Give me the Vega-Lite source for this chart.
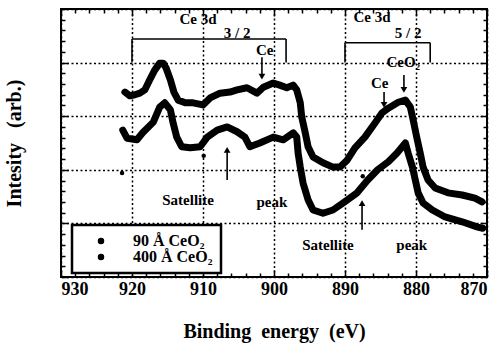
{
  "$schema": "https://vega.github.io/schema/vega-lite/v6.json",
  "width": 426,
  "height": 268,
  "autosize": {"type": "none"},
  "padding": {"left": 61, "top": 9, "right": 13, "bottom": 67},
  "background": "white",
  "config": {
    "view": {"stroke": "black", "strokeWidth": 2},
    "axis": {
      "labelFont": "Liberation Serif", "labelFontWeight": "bold", "labelFontSize": 18, "labelColor": "black",
      "titleFont": "Liberation Serif", "titleFontWeight": "bold", "titleFontSize": 20, "titleColor": "black",
      "tickColor": "black", "tickWidth": 1.5, "domain": false,
      "gridColor": "black", "gridDash": [2, 2.5], "gridWidth": 1.5
    },
    "text": {"font": "Liberation Serif", "fontWeight": "bold", "color": "black"}
  },
  "datasets": {
    "curves": [
      {"series": "90 Å CeO₂", "e": 921.0, "i": 3.45}, {"series": "90 Å CeO₂", "e": 920.3, "i": 3.38},
      {"series": "90 Å CeO₂", "e": 919.6, "i": 3.40}, {"series": "90 Å CeO₂", "e": 918.9, "i": 3.43},
      {"series": "90 Å CeO₂", "e": 918.2, "i": 3.49}, {"series": "90 Å CeO₂", "e": 917.5, "i": 3.68},
      {"series": "90 Å CeO₂", "e": 916.8, "i": 3.86}, {"series": "90 Å CeO₂", "e": 916.1, "i": 3.99},
      {"series": "90 Å CeO₂", "e": 915.6, "i": 3.99}, {"series": "90 Å CeO₂", "e": 915.2, "i": 3.90},
      {"series": "90 Å CeO₂", "e": 914.6, "i": 3.68}, {"series": "90 Å CeO₂", "e": 914.1, "i": 3.45},
      {"series": "90 Å CeO₂", "e": 913.5, "i": 3.30}, {"series": "90 Å CeO₂", "e": 912.5, "i": 3.25},
      {"series": "90 Å CeO₂", "e": 911.4, "i": 3.25}, {"series": "90 Å CeO₂", "e": 910.0, "i": 3.21},
      {"series": "90 Å CeO₂", "e": 909.0, "i": 3.34}, {"series": "90 Å CeO₂", "e": 907.6, "i": 3.43},
      {"series": "90 Å CeO₂", "e": 906.2, "i": 3.45}, {"series": "90 Å CeO₂", "e": 905.2, "i": 3.49},
      {"series": "90 Å CeO₂", "e": 903.8, "i": 3.53}, {"series": "90 Å CeO₂", "e": 902.4, "i": 3.43},
      {"series": "90 Å CeO₂", "e": 901.5, "i": 3.54}, {"series": "90 Å CeO₂", "e": 900.1, "i": 3.62},
      {"series": "90 Å CeO₂", "e": 899.2, "i": 3.58}, {"series": "90 Å CeO₂", "e": 898.2, "i": 3.53},
      {"series": "90 Å CeO₂", "e": 897.3, "i": 3.58}, {"series": "90 Å CeO₂", "e": 896.8, "i": 3.49},
      {"series": "90 Å CeO₂", "e": 896.3, "i": 3.25}, {"series": "90 Å CeO₂", "e": 896.1, "i": 2.99},
      {"series": "90 Å CeO₂", "e": 895.6, "i": 2.69}, {"series": "90 Å CeO₂", "e": 895.2, "i": 2.43},
      {"series": "90 Å CeO₂", "e": 894.5, "i": 2.24}, {"series": "90 Å CeO₂", "e": 893.1, "i": 2.13},
      {"series": "90 Å CeO₂", "e": 891.7, "i": 2.05}, {"series": "90 Å CeO₂", "e": 890.7, "i": 2.05},
      {"series": "90 Å CeO₂", "e": 889.7, "i": 2.18}, {"series": "90 Å CeO₂", "e": 888.6, "i": 2.41},
      {"series": "90 Å CeO₂", "e": 887.2, "i": 2.61}, {"series": "90 Å CeO₂", "e": 885.8, "i": 2.87},
      {"series": "90 Å CeO₂", "e": 884.8, "i": 3.06}, {"series": "90 Å CeO₂", "e": 883.9, "i": 3.15},
      {"series": "90 Å CeO₂", "e": 882.5, "i": 3.26}, {"series": "90 Å CeO₂", "e": 881.5, "i": 3.30},
      {"series": "90 Å CeO₂", "e": 880.8, "i": 3.17}, {"series": "90 Å CeO₂", "e": 880.4, "i": 2.93},
      {"series": "90 Å CeO₂", "e": 879.9, "i": 2.61}, {"series": "90 Å CeO₂", "e": 879.4, "i": 2.31},
      {"series": "90 Å CeO₂", "e": 879.0, "i": 2.05}, {"series": "90 Å CeO₂", "e": 878.3, "i": 1.81},
      {"series": "90 Å CeO₂", "e": 877.3, "i": 1.66}, {"series": "90 Å CeO₂", "e": 875.5, "i": 1.57},
      {"series": "90 Å CeO₂", "e": 873.5, "i": 1.53}, {"series": "90 Å CeO₂", "e": 871.7, "i": 1.47},
      {"series": "90 Å CeO₂", "e": 870.7, "i": 1.40},
      {"series": "400 Å CeO₂", "e": 921.3, "i": 2.74}, {"series": "400 Å CeO₂", "e": 920.7, "i": 2.59},
      {"series": "400 Å CeO₂", "e": 919.3, "i": 2.56}, {"series": "400 Å CeO₂", "e": 918.5, "i": 2.69},
      {"series": "400 Å CeO₂", "e": 917.0, "i": 2.89}, {"series": "400 Å CeO₂", "e": 916.1, "i": 3.17},
      {"series": "400 Å CeO₂", "e": 915.4, "i": 3.25}, {"series": "400 Å CeO₂", "e": 914.6, "i": 3.12},
      {"series": "400 Å CeO₂", "e": 914.2, "i": 2.87}, {"series": "400 Å CeO₂", "e": 913.7, "i": 2.61},
      {"series": "400 Å CeO₂", "e": 913.0, "i": 2.43}, {"series": "400 Å CeO₂", "e": 911.8, "i": 2.41},
      {"series": "400 Å CeO₂", "e": 910.4, "i": 2.43}, {"series": "400 Å CeO₂", "e": 909.4, "i": 2.61},
      {"series": "400 Å CeO₂", "e": 908.0, "i": 2.74}, {"series": "400 Å CeO₂", "e": 906.6, "i": 2.80},
      {"series": "400 Å CeO₂", "e": 905.2, "i": 2.71}, {"series": "400 Å CeO₂", "e": 904.1, "i": 2.61},
      {"series": "400 Å CeO₂", "e": 903.4, "i": 2.43}, {"series": "400 Å CeO₂", "e": 902.0, "i": 2.50},
      {"series": "400 Å CeO₂", "e": 900.1, "i": 2.61}, {"series": "400 Å CeO₂", "e": 898.7, "i": 2.56},
      {"series": "400 Å CeO₂", "e": 897.3, "i": 2.69}, {"series": "400 Å CeO₂", "e": 896.8, "i": 2.61},
      {"series": "400 Å CeO₂", "e": 896.6, "i": 2.31}, {"series": "400 Å CeO₂", "e": 896.3, "i": 2.05},
      {"series": "400 Å CeO₂", "e": 895.9, "i": 1.75}, {"series": "400 Å CeO₂", "e": 895.2, "i": 1.44},
      {"series": "400 Å CeO₂", "e": 894.5, "i": 1.25}, {"series": "400 Å CeO₂", "e": 893.1, "i": 1.19},
      {"series": "400 Å CeO₂", "e": 891.7, "i": 1.25}, {"series": "400 Å CeO₂", "e": 890.3, "i": 1.38},
      {"series": "400 Å CeO₂", "e": 888.3, "i": 1.57}, {"series": "400 Å CeO₂", "e": 886.8, "i": 1.81},
      {"series": "400 Å CeO₂", "e": 885.4, "i": 2.00}, {"series": "400 Å CeO₂", "e": 883.9, "i": 2.15},
      {"series": "400 Å CeO₂", "e": 882.7, "i": 2.31}, {"series": "400 Å CeO₂", "e": 881.5, "i": 2.50},
      {"series": "400 Å CeO₂", "e": 881.1, "i": 2.31}, {"series": "400 Å CeO₂", "e": 880.5, "i": 2.05},
      {"series": "400 Å CeO₂", "e": 880.1, "i": 1.81}, {"series": "400 Å CeO₂", "e": 879.7, "i": 1.57},
      {"series": "400 Å CeO₂", "e": 879.0, "i": 1.38}, {"series": "400 Å CeO₂", "e": 877.7, "i": 1.25},
      {"series": "400 Å CeO₂", "e": 875.9, "i": 1.12}, {"series": "400 Å CeO₂", "e": 873.5, "i": 1.03},
      {"series": "400 Å CeO₂", "e": 871.3, "i": 0.93}, {"series": "400 Å CeO₂", "e": 870.6, "i": 0.91}
    ],
    "stray": [
      {"e": 921.4, "i": 1.94}, {"e": 909.9, "i": 2.26}, {"e": 887.5, "i": 1.88}
    ],
    "segs": [
      {"x": 920, "x2": 898.3, "y": 4.44, "y2": 4.44},
      {"x": 920, "x2": 920, "y": 4.0, "y2": 4.44},
      {"x": 898.3, "x2": 898.3, "y": 4.0, "y2": 4.44},
      {"x": 890, "x2": 878.0, "y": 4.37, "y2": 4.37},
      {"x": 890, "x2": 890, "y": 4.0, "y2": 4.37},
      {"x": 878.0, "x2": 878.0, "y": 4.0, "y2": 4.37},
      {"x": 901.7, "x2": 901.7, "y": 4.10, "y2": 3.76},
      {"x": 884.5, "x2": 884.5, "y": 3.45, "y2": 3.23},
      {"x": 881.7, "x2": 881.7, "y": 3.77, "y2": 3.51},
      {"x": 906.6, "x2": 906.6, "y": 1.81, "y2": 2.36},
      {"x": 887.6, "x2": 887.6, "y": 0.88, "y2": 1.37}
    ],
    "heads": [
      {"x": 901.7, "y": 3.74, "dir": "down"},
      {"x": 884.5, "y": 3.21, "dir": "down"},
      {"x": 881.7, "y": 3.49, "dir": "down"},
      {"x": 906.6, "y": 2.37, "dir": "up"},
      {"x": 887.6, "y": 1.38, "dir": "up"}
    ],
    "labels": [
      {"x": 910.7, "y": 4.81, "text": "Ce 3d", "kind": "label"},
      {"x": 905.2, "y": 4.55, "text": "3 / 2", "kind": "sub"},
      {"x": 886.2, "y": 4.85, "text": "Ce 3d", "kind": "label"},
      {"x": 881.1, "y": 4.55, "text": "5 / 2", "kind": "sub"},
      {"x": 901.3, "y": 4.24, "text": "Ce", "kind": "label"},
      {"x": 885.1, "y": 3.62, "text": "Ce", "kind": "label"},
      {"x": 881.8, "y": 4.01, "text": "CeO₂", "kind": "label"},
      {"x": 912.1, "y": 1.44, "text": "Satellite", "kind": "note"},
      {"x": 900.3, "y": 1.40, "text": "peak", "kind": "note"},
      {"x": 892.4, "y": 0.60, "text": "Satellite", "kind": "note"},
      {"x": 880.6, "y": 0.60, "text": "peak", "kind": "note"}
    ]
  },
  "layer": [
    {
      "data": {"name": "curves"},
      "mark": {"type": "line", "strokeWidth": 7, "strokeJoin": "round", "strokeCap": "round"},
      "encoding": {
        "x": {
          "field": "e", "type": "quantitative",
          "scale": {"domain": [870, 930], "reverse": true, "nice": false, "zero": false},
          "axis": {
            "orient": "bottom", "title": "Binding\u00a0 energy\u00a0 (eV)",
            "values": [930,928,926,924,922,920,918,916,914,912,910,908,906,904,902,900,898,896,894,892,890,888,886,884,882,880,878,876,874,872,870],
            "labelExpr": "datum.value % 10 == 0 ? format(datum.value, 'd') : ''",
            "tickSize": {"condition": {"test": "datum.value % 10 == 0", "value": -7}, "value": -4},
            "labelPadding": 10, "titlePadding": 23,
            "grid": true,
            "gridOpacity": {"condition": {"test": "datum.value % 10 == 0", "value": 1}, "value": 0}
          }
        },
        "y": {
          "field": "i", "type": "quantitative",
          "scale": {"domain": [0, 5], "nice": false},
          "axis": {
            "orient": "left", "title": "Intesity\u00a0\u00a0 (arb.)", "labels": false,
            "values": [0,0.2,0.4,0.6,0.8,1,1.2,1.4,1.6,1.8,2,2.2,2.4,2.6,2.8,3,3.2,3.4,3.6,3.8,4,4.2,4.4,4.6,4.8,5],
            "tickSize": {"condition": {"test": "datum.value % 1 == 0", "value": -7}, "value": -4},
            "titlePadding": 36,
            "grid": true,
            "gridOpacity": {"condition": {"test": "datum.value % 1 == 0", "value": 1}, "value": 0}
          }
        },
        "color": {
          "field": "series", "type": "nominal",
          "scale": {"domain": ["90 Å CeO₂", "400 Å CeO₂"], "range": ["black", "black"]},
          "legend": {
            "title": null, "orient": "none", "legendX": 11, "legendY": 216,
            "symbolType": "circle", "symbolFillColor": "black", "symbolStrokeColor": "black", "symbolSize": 25,
            "symbolOffset": 13, "labelOffset": 24,
            "labelFont": "Liberation Serif", "labelFontWeight": "bold", "labelFontSize": 16, "labelColor": "black",
            "fillColor": "white", "strokeColor": "black", "padding": 8, "rowPadding": 0,
            "encode": {"legend": {"update": {"strokeWidth": {"value": 2.5}}}}
          }
        }
      }
    },
    {
      "data": {"name": "stray"},
      "mark": {"type": "point", "filled": true, "color": "black", "size": 20, "opacity": 1},
      "encoding": {
        "x": {"field": "e", "type": "quantitative", "axis": null},
        "y": {"field": "i", "type": "quantitative", "axis": null}
      }
    },
    {
      "data": {"name": "segs"},
      "mark": {"type": "rule", "color": "black", "strokeWidth": 1.6},
      "encoding": {
        "x": {
          "field": "x", "type": "quantitative",
          "axis": {
            "orient": "top", "title": null, "labels": false, "grid": false,
            "values": [930,928,926,924,922,920,918,916,914,912,910,908,906,904,902,900,898,896,894,892,890,888,886,884,882,880,878,876,874,872,870],
            "tickSize": {"condition": {"test": "datum.value % 10 == 0", "value": -7}, "value": -4}
          }
        },
        "x2": {"field": "x2"},
        "y": {
          "field": "y", "type": "quantitative",
          "axis": {
            "orient": "right", "title": null, "labels": false, "grid": false,
            "values": [0,0.2,0.4,0.6,0.8,1,1.2,1.4,1.6,1.8,2,2.2,2.4,2.6,2.8,3,3.2,3.4,3.6,3.8,4,4.2,4.4,4.6,4.8,5],
            "tickSize": {"condition": {"test": "datum.value % 1 == 0", "value": -7}, "value": -4}
          }
        },
        "y2": {"field": "y2"}
      }
    },
    {
      "data": {"name": "heads"},
      "mark": {"type": "point", "filled": true, "color": "black", "size": 45, "opacity": 1},
      "encoding": {
        "x": {"field": "x", "type": "quantitative", "axis": null},
        "y": {"field": "y", "type": "quantitative", "axis": null},
        "shape": {"field": "dir", "type": "nominal", "scale": {"domain": ["down", "up"], "range": ["triangle-down", "triangle-up"]}, "legend": null}
      }
    },
    {
      "data": {"name": "labels"},
      "mark": {"type": "text", "baseline": "middle", "align": "center"},
      "encoding": {
        "x": {"field": "x", "type": "quantitative", "axis": null},
        "y": {"field": "y", "type": "quantitative", "axis": null},
        "text": {"field": "text"},
        "size": {"field": "kind", "type": "nominal", "scale": {"domain": ["label", "note", "sub"], "range": [15, 15, 10]}, "legend": null}
      }
    }
  ],
  "resolve": {"axis": {"x": "independent", "y": "independent"}}
}
